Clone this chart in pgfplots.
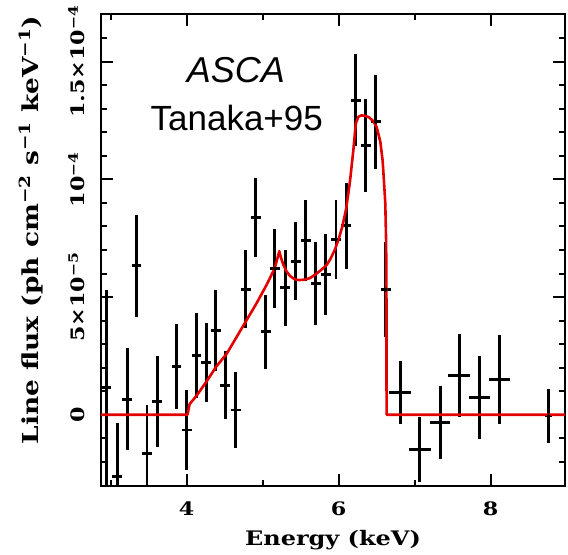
\documentclass[border=0pt]{standalone}
\usepackage{fontspec}
\setmainfont{DejaVu Serif}[FakeStretch=1.2]
\newfontfamily\arial{Liberation Sans}
\usepackage{pgfplots}
\pgfplotsset{compat=1.18}
\usepackage{pgfplotstable}
\definecolor{modelred}{RGB}{228,0,0}
\newcommand{\sups}[1]{\textsuperscript{#1}}
\newcommand{\tl}[1]{\mbox{\fontsize{18.5bp}{22bp}\selectfont\bfseries #1}}

\pgfplotstableread{
x y ex ey
2.946 1.14e-5 0.065 4.15e-5
3.086 -2.64e-5 0.065 2.27e-5
3.217 0.66e-5 0.065 2.18e-5
3.341 6.33e-5 0.065 2.16e-5
3.480 -1.65e-5 0.065 2.05e-5
3.613 0.56e-5 0.065 1.95e-5
3.868 2.04e-5 0.065 1.81e-5
4.000 -0.65e-5 0.065 1.72e-5
4.130 2.53e-5 0.065 1.80e-5
4.260 2.22e-5 0.065 1.68e-5
4.386 3.57e-5 0.065 1.72e-5
4.510 1.26e-5 0.065 1.43e-5
4.646 0.20e-5 0.065 1.62e-5
4.777 5.34e-5 0.065 1.65e-5
4.909 8.38e-5 0.065 1.68e-5
5.040 3.52e-5 0.065 1.58e-5
5.163 6.20e-5 0.065 1.68e-5
5.300 5.39e-5 0.065 1.62e-5
5.436 6.53e-5 0.065 1.67e-5
5.568 7.40e-5 0.065 1.72e-5
5.700 5.58e-5 0.065 1.77e-5
5.830 5.96e-5 0.065 1.73e-5
5.967 7.45e-5 0.065 1.67e-5
6.099 8.03e-5 0.065 1.83e-5
6.227 13.37e-5 0.065 1.96e-5
6.358 11.43e-5 0.065 1.98e-5
6.490 12.45e-5 0.065 2.00e-5
6.622 5.32e-5 0.065 2.00e-5
6.810 0.95e-5 0.147 1.35e-5
7.070 -1.46e-5 0.143 1.38e-5
7.337 -0.34e-5 0.136 1.55e-5
7.588 1.68e-5 0.143 1.77e-5
7.855 0.73e-5 0.143 1.78e-5
8.119 1.50e-5 0.143 1.89e-5
8.764 -0.05e-5 0.05 1.15e-5
}\data

\pgfplotstableread{
x y
2.874 0
4.013 0
4.04 0.45e-5
4.13 0.80e-5
4.26 1.40e-5
4.39 2.04e-5
4.53 2.60e-5
4.66 3.31e-5
4.79 4.02e-5
4.92 4.73e-5
5.05 5.50e-5
5.16 6.22e-5
5.20 6.70e-5
5.22 6.95e-5
5.24 6.70e-5
5.27 6.40e-5
5.31 6.12e-5
5.36 5.90e-5
5.42 5.76e-5
5.48 5.72e-5
5.55 5.74e-5
5.62 5.80e-5
5.70 5.97e-5
5.77 6.15e-5
5.84 6.35e-5
5.89 6.60e-5
5.95 7.00e-5
6.00 7.45e-5
6.05 8.00e-5
6.10 8.75e-5
6.15 9.90e-5
6.195 11.25e-5
6.227 12.38e-5
6.26 12.66e-5
6.30 12.72e-5
6.35 12.70e-5
6.40 12.64e-5
6.45 12.50e-5
6.50 12.24e-5
6.55 11.60e-5
6.58 10.80e-5
6.60 9.80e-5
6.615 9.00e-5
6.625 7.50e-5
6.63 6.00e-5
6.632 0
8.98 0
}\model

\begin{document}
\begin{tikzpicture}
\begin{axis}[
  scale only axis, width=464bp, height=472bp,
  xmin=2.874, xmax=8.98, ymin=-3.03e-5, ymax=1.703e-4,
  axis line style={line width=2bp},
  every tick/.style={black, line width=2bp},
  major tick length=12bp, minor tick length=6bp,
  tick align=inside, tick pos=both,
  xtick={4,6,8}, minor xtick={3,5,7,9},
  ytick={0,5e-5,1e-4,1.5e-4},
  minor ytick={-2e-5,-1e-5,1e-5,2e-5,3e-5,4e-5,6e-5,7e-5,8e-5,9e-5,1.1e-4,1.2e-4,1.3e-4,1.4e-4,1.6e-4},
  scaled y ticks=false, scaled x ticks=false,
  xticklabels={\tl{4},\tl{6},\tl{8}},
  yticklabels={\tl{0}, \tl{5×10\sups{−5}}, \tl{10\sups{−4}}, \tl{1.5×10\sups{−4}}},
  xticklabel style={anchor=north, inner sep=0pt, yshift=-16bp},
  yticklabel style={xshift=-16.5bp, rotate=90, anchor=south, inner sep=0pt},
  xlabel={Energy (keV)},
  ylabel={Line flux (ph cm\sups{−2} s\sups{−1} keV\sups{−1})},
  xlabel style={font=\fontsize{20bp}{24bp}\selectfont\bfseries, at={([yshift=-54bp]axis description cs:0.5,0)}, anchor=center},
  ylabel style={font=\fontsize{22bp}{26bp}\selectfont\bfseries, at={([xshift=-70bp]axis description cs:0,0.542)}, anchor=center},
  clip=true,
]
\coordinate (sw) at (rel axis cs:0,0);
\coordinate (ne) at (rel axis cs:1,1);
\addplot[black, mark=diamond*, mark size=2bp, only marks,
  error bars/.cd, x dir=both, x explicit, y dir=both, y explicit,
  error mark=none, error bar style={line width=2.9bp, black}]
  table[x=x, y=y, x error=ex, y error=ey] {\data};
\addplot[modelred, line width=2.6bp, line join=round] table[x=x, y=y] {\model};
\node[font=\arial\itshape\fontsize{36bp}{40bp}\selectfont, inner sep=0pt] at (axis cs:4.65,14.64e-5) {ASCA};
\node[font=\arial\fontsize{35bp}{40bp}\selectfont, inner sep=0pt] at (axis cs:4.66,12.6e-5) {Tanaka+95};
\end{axis}
\pgfresetboundingbox
\path[use as bounding box] ([shift={(-101bp,-69bp)}]sw) rectangle ([shift={(3bp,14bp)}]ne);
\end{tikzpicture}
\end{document}
